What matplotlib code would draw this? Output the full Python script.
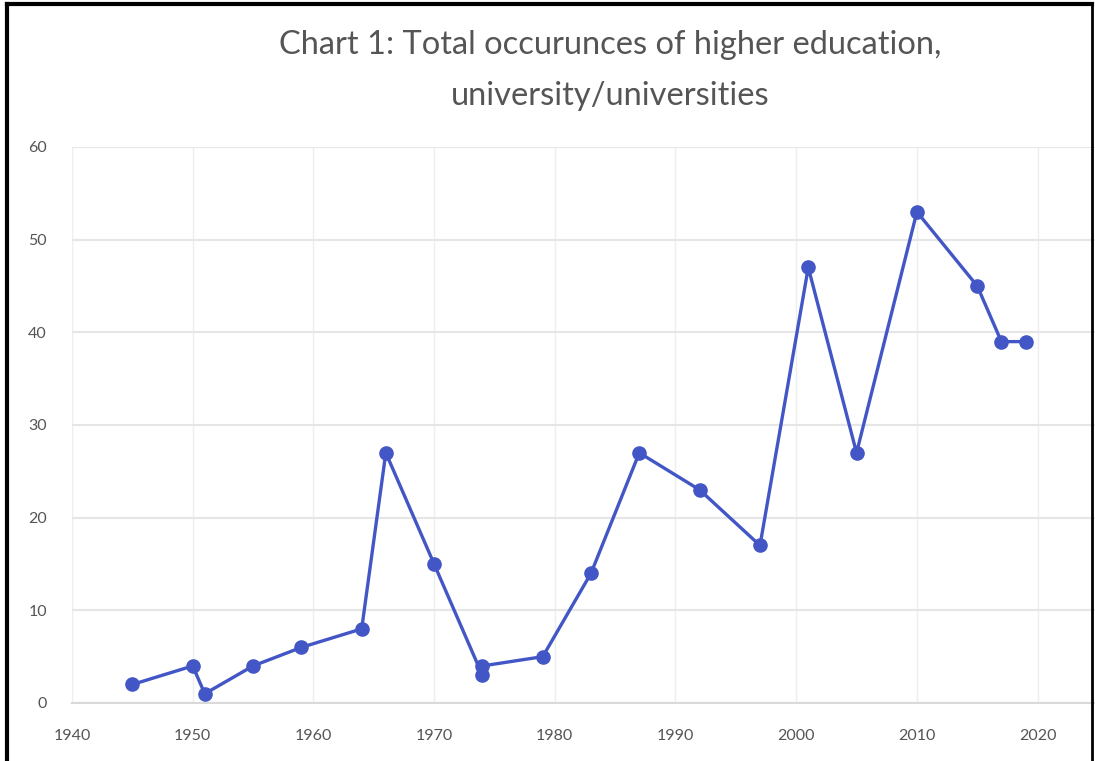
import matplotlib.pyplot as plt
from matplotlib.lines import Line2D

# Occurrences per year
years = [1945, 1950, 1951, 1955, 1959, 1964, 1966, 1970, 1974, 1974, 1979,
         1983, 1987, 1992, 1997, 2001, 2005, 2010, 2015, 2017, 2019]
counts = [2, 4, 1, 4, 6, 8, 27, 15, 3, 4, 5,
          14, 27, 23, 17, 47, 27, 53, 45, 39, 39]

x_ticks = [1940, 1950, 1960, 1970, 1980, 1990, 2000, 2010, 2020]
y_ticks = [0, 10, 20, 30, 40, 50, 60]

plt.rcParams['font.family'] = ['Lato', 'DejaVu Sans']

fig = plt.figure(figsize=(10.95, 7.61), dpi=100)
ax = fig.add_axes([72 / 1095, 58 / 761, 1023 / 1095, 556 / 761])

ax.plot(years, counts, color='#4356c6', linewidth=2.4, marker='o',
        markersize=9.5, markerfacecolor='#4356c6', markeredgecolor='#4356c6',
        zorder=3)

ax.set_xlim(1940, 1940 + 1023 / 12.07)
ax.set_ylim(0, 60)
ax.set_xticks(x_ticks)
ax.set_yticks(y_ticks)
ax.tick_params(length=0, labelsize=11.5, colors='#555555')
ax.tick_params(axis='x', pad=19)
ax.tick_params(axis='y', pad=18)

ax.grid(axis='y', color='#e6e6e6', linewidth=1.5)
ax.grid(axis='x', color='#eeeeee', linewidth=1.0)
for s in ['top', 'right', 'left']:
    ax.spines[s].set_visible(False)
ax.spines['bottom'].set_color('#d9d9d9')
ax.spines['bottom'].set_linewidth(1.5)

fig.text(0.557, 1 - 45 / 761, 'Chart 1: Total occurunces of higher education,',
         ha='center', va='center', fontsize=23.5, color='#555555')
fig.text(0.557, 1 - 96 / 761, 'university/universities',
         ha='center', va='center', fontsize=23.5, color='#555555')

# frame around the chart
fig.add_artist(Line2D([0.006, 0.006], [0, 0.995], color='black', linewidth=3))
fig.add_artist(Line2D([0.006, 0.997], [0.995, 0.995], color='black', linewidth=3))
fig.add_artist(Line2D([0.997, 0.997], [0, 0.995], color='black', linewidth=2))

fig.savefig('out.png', dpi=100)
